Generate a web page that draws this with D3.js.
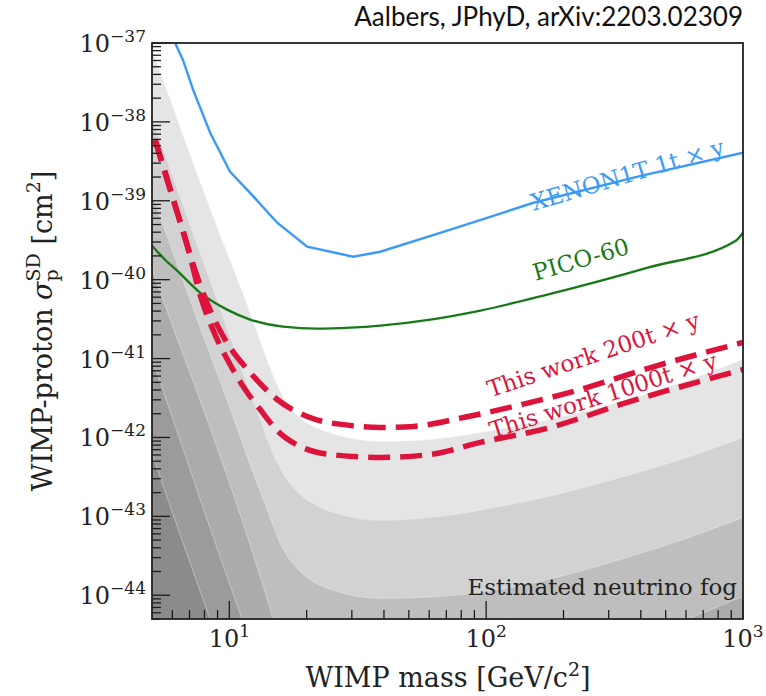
<!DOCTYPE html>
<html>
<head>
<meta charset="utf-8">
<script src="https://cdn.jsdelivr.net/npm/d3@7"></script>
<style>
	body { margin: 0; background: #fff; }
	text { font-family: 'DejaVu Serif', serif; }
</style>
</head>
<body>
<svg id="chart" width="766" height="696"></svg>
<script>
// limits, [mass GeV, sigma cm^2]
let xenon1t = [[6.15, 1e-37], [6.6, 6.1e-38], [7.23, 2.54e-38], [8.42, 7.3e-39], [10.07, 2.33e-39],
	[12.05, 1.26e-39], [15.36, 5.27e-40], [20.1, 2.62e-40], [30.4, 1.95e-40], [38.7, 2.26e-40],
	[72.6, 4.3e-40], [152.9, 9.44e-40], [400, 2.07e-39], [1000, 4.06e-39]]

let pico60 = [[5.0, 2.69e-40], [5.62, 1.79e-40], [6.26, 1.30e-40], [7.69, 6.85e-41], [9.8, 4.17e-41],
	[12.05, 3.12e-41], [16.2, 2.54e-41], [22.0, 2.40e-41], [29.6, 2.47e-41], [38.7, 2.62e-41],
	[60.7, 3.12e-41], [95, 4.06e-41], [173, 6.46e-41], [426, 1.42e-40], [937, 3.12e-40], [1000, 3.94e-40]]

let work200 = [[5.14, 5.91e-39], [5.62, 2.33e-39], [6.26, 7.26e-40], [7.03, 2.07e-40], [7.69, 8.65e-41],
	[8.57, 3.61e-41], [9.63, 1.74e-41], [12.05, 6.65e-42], [15.36, 3.03e-42], [20.11, 1.84e-42],
	[29.58, 1.42e-42], [38.71, 1.34e-42], [52.07, 1.38e-42], [81.5, 1.79e-42], [127.8, 2.47e-42],
	[233.2, 4.06e-42], [437, 7.69e-42], [1000, 1.60e-41]]

let work1000 = [[5.14, 5.91e-39], [5.88, 1.38e-39], [6.85, 2.77e-40], [7.69, 6.46e-41], [8.80, 2.01e-41],
	[10.07, 8.40e-42], [11.53, 4.06e-42], [13.19, 2.26e-42], [15.50, 1.19e-42], [18.88, 7.69e-43],
	[24.72, 6.09e-43], [38.71, 5.58e-43], [60.66, 6.09e-43], [95.0, 8.65e-43], [178.1, 1.34e-42],
	[333.9, 2.62e-42], [1000, 7.26e-42]]

// neutrino fog contour edges, lightest first
let fog1 = [[5.00, 8.15e-38], [5.52, 3.41e-38], [7.03, 3.82e-39], [9.04, 4.30e-40], [11.53, 5.58e-41],
	[13.79, 1.12e-41], [15.50, 4.30e-42], [17.26, 2.40e-42], [19.40, 1.64e-42], [22.19, 1.30e-42],
	[25.85, 1.09e-42], [31.50, 9.44e-43], [38.71, 8.90e-43], [60.66, 9.44e-43], [110.7, 1.26e-42],
	[233.2, 2.07e-42], [478.1, 4.06e-42], [1000, 9.70e-42]]
let fog2 = [[5.00, 1.12e-38], [6.43, 1.12e-39], [8.96, 5.58e-41], [11.53, 5.42e-42], [13.19, 1.69e-42],
	[14.69, 6.65e-43], [16.50, 3.21e-43], [18.88, 1.90e-43], [22.19, 1.34e-43], [27.04, 1.06e-43],
	[38.71, 8.90e-44], [66.34, 1.00e-43], [113.7, 1.34e-43], [194.8, 1.95e-43], [333.9, 3.12e-43],
	[572.0, 5.27e-43], [1000, 1.00e-42]]
let fog3 = [[5.00, 1.23e-39], [7.03, 5.58e-41], [10.44, 1.69e-42], [12.05, 4.55e-43], [13.79, 1.42e-43],
	[16.21, 3.82e-44], [18.88, 2.01e-44], [25.39, 1.16e-44], [38.71, 9.16e-45], [66.34, 9.70e-45],
	[113.7, 1.19e-44], [194.8, 1.74e-44], [333.9, 2.86e-44], [572.0, 4.97e-44], [1000, 9.70e-44]]
// this one dips below the frame between ~15 and ~600 GeV
let fog4 = [[5.00, 1.38e-40], [5.52, 5.58e-41], [8.19, 1.69e-42], [11.02, 1.06e-43], [14.82, 4.97e-45],
	[17.3, 8.7e-46], [114, 6.5e-46], [279, 1.7e-45], [609.2, 4.97e-45], [1000, 9.70e-45]]
let fog5 = [[5.00, 1.00e-41], [6.04, 1.69e-42], [8.19, 9.16e-44], [11.22, 4.97e-45]]
let fog6 = [[5.00, 6.27e-43], [6.43, 5.91e-44], [8.42, 4.97e-45]]

let fogLevels = [fog1, fog2, fog3, fog4, fog5, fog6]
let fogColors = ['#e5e5e5', '#d2d2d2', '#bebebe', '#ababab', '#9b9b9b', '#8b8b8b']

let xMajor = [10, 100, 1000]
let yMajorExp = [-44, -43, -42, -41, -40, -39, -38, -37]

let margin = ({ top: 43, right: 23, bottom: 77, left: 152 })
let width = 766 - margin.left - margin.right
let height = 696 - margin.top - margin.bottom

let x = d3.scaleLog().domain([5, 1000]).range([0, width])
let y = d3.scaleLog().domain([5e-45, 1e-37]).range([height, 0])

let svg = d3.select('#chart')

function textWidth(str, size, style) {
	let t = svg.append('text').attr('font-size', size).attr('font-style', style || null).text(str)
	let w = t.node().getComputedTextLength()
	t.remove()
	return w
}

svg.append('defs').append('clipPath').attr('id', 'plot-clip')
	.append('rect').attr('width', width).attr('height', height)

let g = svg.append('g').attr('transform', `translate(${margin.left},${margin.top})`)
let plot = g.append('g').attr('clip-path', 'url(#plot-clip)')

// fog bands
let fogArea = d3.area()
	.x(d => x(d[0]))
	.y0(height)
	.y1(d => y(d[1]))
	.curve(d3.curveMonotoneX)
let edge = d3.line()
	.x(d => x(d[0]))
	.y(d => y(d[1]))
	.curve(d3.curveMonotoneX)

fogLevels.forEach((lvl, i) => {
	plot.append('path')
		.attr('d', fogArea(lvl))
		.attr('fill', fogColors[i])
	plot.append('path')
		.attr('d', edge(lvl))
		.attr('fill', 'none')
		.attr('stroke', '#f4f4f4')
		.attr('stroke-opacity', 0.45)
		.attr('stroke-width', 0.9)
})

// limit curves
plot.append('path')
	.attr('d', d3.line().x(d => x(d[0])).y(d => y(d[1]))(xenon1t))
	.attr('fill', 'none')
	.attr('stroke', '#3a9af5')
	.attr('stroke-width', 2.4)

plot.append('path')
	.attr('d', edge(pico60))
	.attr('fill', 'none')
	.attr('stroke', '#177a17')
	.attr('stroke-width', 2.4)

;[work200, work1000].forEach(s => {
	plot.append('path')
		.attr('d', edge(s))
		.attr('fill', 'none')
		.attr('stroke', '#dc143c')
		.attr('stroke-width', 5.5)
		.attr('stroke-dasharray', '22,10')
})

// curve labels
let labels = [
	{ text: 'XENON1T 1t \u00d7 y', at: [152.9, 7.46e-40], rot: -16.5, color: '#3a9af5' },
	{ text: 'PICO-60', at: [155.7, 9.70e-41], rot: -16, color: '#177a17' },
	{ text: 'This work 200t \u00d7 y', at: [103.9, 3.21e-42], rot: -18.5, color: '#dc143c' },
	{ text: 'This work 1000t \u00d7 y', at: [105.8, 9.70e-43], rot: -17.5, color: '#dc143c' }
]
g.selectAll('text.curve-label')
	.data(labels)
	.join('text')
	.attr('class', 'curve-label')
	.attr('transform', d => `translate(${x(d.at[0])},${y(d.at[1])}) rotate(${d.rot})`)
	.attr('font-size', 23)
	.attr('fill', d => d.color)
	.text(d => d.text)

g.append('text')
	.attr('x', width - 6)
	.attr('y', height - 24)
	.attr('text-anchor', 'end')
	.attr('font-size', 23)
	.attr('fill', '#222')
	.text('Estimated neutrino fog')

// ticks, pointing inward
let yMinor = []
for (let e = -45; e < -37; e++) {
	for (let k = 2; k < 10; k++) {
		let v = k * Math.pow(10, e)
		if (v >= 5e-45 && v <= 1e-37) yMinor.push(v)
	}
}
let xMinor = []
for (let e = 0; e < 3; e++) {
	for (let k = 2; k < 10; k++) {
		let v = k * Math.pow(10, e)
		if (v > 5 && v < 1000) xMinor.push(v)
	}
}

let ticks = g.append('g').attr('stroke', '#1a1a1a').attr('stroke-width', 1.3)
ticks.selectAll('line.ymin').data(yMinor).join('line')
	.attr('x1', 0).attr('x2', 9).attr('y1', d => y(d)).attr('y2', d => y(d))
ticks.selectAll('line.ymaj').data(yMajorExp).join('line')
	.attr('x1', 0).attr('x2', 18).attr('y1', d => y(Math.pow(10, d))).attr('y2', d => y(Math.pow(10, d)))
ticks.selectAll('line.xmin').data(xMinor).join('line')
	.attr('y1', height).attr('y2', height - 9).attr('x1', d => x(d)).attr('x2', d => x(d))
ticks.selectAll('line.xmaj').data(xMajor).join('line')
	.attr('y1', height).attr('y2', height - 18).attr('x1', d => x(d)).attr('x2', d => x(d))

g.append('rect')
	.attr('width', width)
	.attr('height', height)
	.attr('fill', 'none')
	.attr('stroke', '#222')
	.attr('stroke-width', 1.8)

// tick labels
g.selectAll('text.ylab')
	.data(yMajorExp)
	.join('text')
	.attr('class', 'ylab')
	.attr('x', -6)
	.attr('y', d => y(Math.pow(10, d)) + 9)
	.attr('text-anchor', 'end')
	.attr('font-size', 24)
	.attr('fill', '#222')
	.each(function (d) {
		let t = d3.select(this)
		t.append('tspan').text('10')
		t.append('tspan').attr('dy', -10).attr('font-size', 17).text('\u2212' + (-d))
	})

g.selectAll('text.xlab')
	.data(xMajor)
	.join('text')
	.attr('class', 'xlab')
	.attr('x', d => x(d))
	.attr('y', height + 28)
	.attr('text-anchor', 'middle')
	.attr('font-size', 24)
	.attr('fill', '#222')
	.each(function (d) {
		let t = d3.select(this)
		t.append('tspan').text('10')
		t.append('tspan').attr('dy', -10).attr('font-size', 17).text(Math.round(Math.log10(d)))
	})

// axis titles
let xl = svg.append('text')
	.attr('x', 448)
	.attr('y', 687)
	.attr('text-anchor', 'middle')
	.attr('font-size', 27)
	.attr('fill', '#222')
xl.append('tspan').text('WIMP mass [GeV/c')
xl.append('tspan').attr('dy', -11).attr('font-size', 19).text('2')
xl.append('tspan').attr('dy', 11).text(']')

let wSD = textWidth('SD', 19)
let wp = textWidth('p', 19)
let yl = svg.append('text')
	.attr('transform', 'translate(52,331) rotate(-90)')
	.attr('text-anchor', 'middle')
	.attr('font-size', 27)
	.attr('fill', '#222')
yl.append('tspan').text('WIMP-proton ')
yl.append('tspan').attr('font-style', 'italic').text('\u03c3')
yl.append('tspan').attr('font-size', 19).attr('dy', -12).text('SD')
yl.append('tspan').attr('font-size', 19).attr('dx', -wSD).attr('dy', 18).text('p')
yl.append('tspan').attr('dx', wSD - wp).attr('dy', -6).text(' [cm')
yl.append('tspan').attr('font-size', 19).attr('dy', -12).text('2')
yl.append('tspan').attr('dy', 12).text(']')

svg.append('text')
	.attr('x', 743)
	.attr('y', 26)
	.attr('text-anchor', 'end')
	.attr('font-size', 26)
	.attr('fill', '#111')
	.style('font-family', 'Lato, sans-serif')
	.text('Aalbers, JPhyD, arXiv:2203.02309')
</script>
</body>
</html>
